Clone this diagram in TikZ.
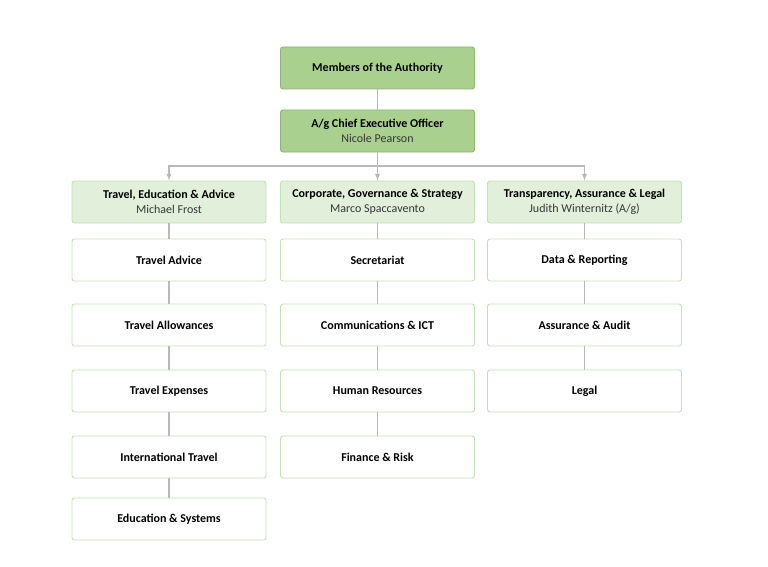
\documentclass[tikz,border=0pt]{standalone}
\usepackage{fontspec}
\setmainfont{Carlito}
\definecolor{leafgreen}{RGB}{169,208,142}
\definecolor{palegreen}{RGB}{226,239,218}
\definecolor{edgegreen}{RGB}{197,224,180}
\definecolor{linegrey}{RGB}{185,185,185}
\definecolor{namegrey}{RGB}{55,55,55}
\tikzset{
	unit/.style={draw=edgegreen, rounded corners=2.5pt, line width=0.9pt, minimum width=194pt, minimum height=42pt, align=center, inner sep=2pt, font=\fontsize{12}{15}\selectfont},
	topunit/.style={unit, fill=leafgreen, draw=leafgreen!85!black},
	deptunit/.style={unit, fill=palegreen},
	subunit/.style={unit, fill=white, font=\fontsize{12}{15}\selectfont\bfseries},
	link/.style={draw=linegrey, line width=1.3pt},
}
\newcommand{\headname}[1]{{\color{namegrey}#1}}

\begin{document}
\begin{tikzpicture}[x=1pt,y=1pt]
			\useasboundingbox (0,0) rectangle (768,-567);
			\node[topunit] (board) at (377.5,-68) {\textbf{Members of the Authority}};
			\node[topunit] (ceo) at (377.5,-131) {\textbf{A/g Chief Executive Officer}\\\headname{Nicole Pearson}};
			\draw[link] (board) -- (ceo);
			\coordinate (bus) at (377.5,-166);
			\draw[link] (ceo) -- (bus);
			%departments
			\node[deptunit] (tea) at (169,-202) {\textbf{Travel, Education \& Advice}\\\headname{Michael Frost}};
			\node[deptunit] (cgs) at (377.5,-202) {\textbf{Corporate, Governance \& Strategy}\\\headname{Marco Spaccavento}};
			\node[deptunit] (tal) at (584.5,-202) {\textbf{Transparency, Assurance \& Legal}\\\headname{Judith Winternitz (A/g)}};
			\draw[link,-latex] (bus) -| (tea);
			\draw[link,-latex] (bus) -- (cgs);
			\draw[link,-latex] (bus) -| (tal);
			%sections
			\foreach \name/\y/\txt [remember=\name as \prev (initially tea)] in {advice/260/Travel Advice, allow/325/Travel Allowances, expense/391/Travel Expenses, intl/457/International Travel, edusys/519/Education \& Systems}{
				\node[subunit] (\name) at (169,-\y) {\txt};
				\draw[link] (\prev) -- (\name);
			}
			\foreach \name/\y/\txt [remember=\name as \prev (initially cgs)] in {secr/260/Secretariat, comms/325/Communications \& ICT, hr/391/Human Resources, finance/457/Finance \& Risk}{
				\node[subunit] (\name) at (377.5,-\y) {\txt};
				\draw[link] (\prev) -- (\name);
			}
			\foreach \name/\y/\txt [remember=\name as \prev (initially tal)] in {data/260/Data \& Reporting, audit/325/Assurance \& Audit, legal/391/Legal}{
				\node[subunit] (\name) at (584.5,-\y) {\txt};
				\draw[link] (\prev) -- (\name);
			}
		\end{tikzpicture}
\end{document}
